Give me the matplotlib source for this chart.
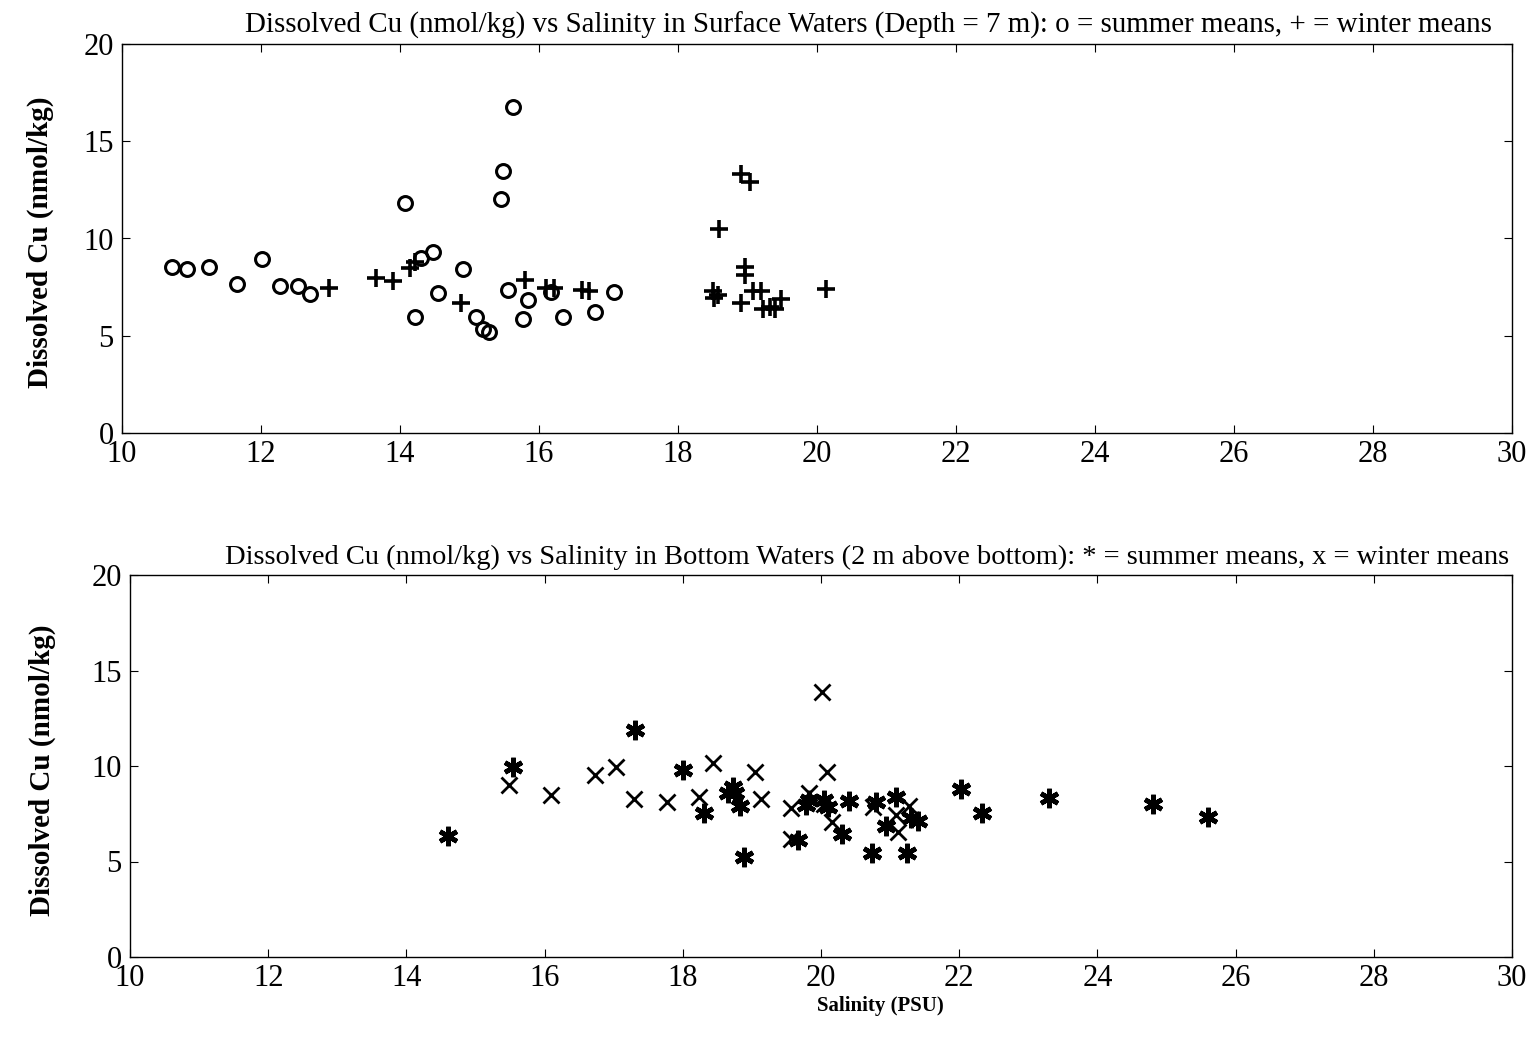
import matplotlib
matplotlib.use("Agg")
import matplotlib.pyplot as plt

plt.rcParams['font.family'] = ['Liberation Serif', 'DejaVu Serif']

# ---- Surface waters (top panel) ----
surf_summer_sal = [10.72, 10.93, 11.25, 11.65, 12.02, 12.27, 12.53, 12.70, 14.07, 14.22,
                   14.30, 14.48, 14.55, 14.91, 15.10, 15.20, 15.28, 15.45, 15.48, 15.62,
                   15.55, 15.84, 15.77, 16.17, 16.35, 16.81, 17.08]
surf_summer_cu = [8.55, 8.45, 8.55, 7.65, 8.93, 7.55, 7.55, 7.15, 11.8, 5.95,
                  9.0, 9.3, 7.2, 8.45, 5.97, 5.35, 5.2, 12.05, 13.45, 16.75,
                  7.35, 6.85, 5.85, 7.25, 5.97, 6.2, 7.25]

surf_winter_sal = [12.98, 13.65, 13.90, 14.15, 14.22, 14.88, 15.80, 16.10, 16.22, 16.62,
                   16.72, 18.50, 18.58, 18.52, 18.59, 18.91, 19.03, 18.97, 18.97, 18.91,
                   19.08, 19.20, 19.22, 19.32, 19.39, 19.48, 20.13]
surf_winter_cu = [7.45, 7.95, 7.8, 8.5, 8.8, 6.7, 7.85, 7.45, 7.45, 7.35,
                  7.3, 7.3, 7.1, 6.95, 10.5, 13.3, 12.9, 8.55, 8.1, 6.7,
                  7.3, 7.3, 6.4, 6.5, 6.35, 6.9, 7.4]

# ---- Bottom waters (bottom panel) ----
bot_summer_sal = [14.60, 15.54, 17.31, 18.00, 18.31, 18.65, 18.73, 18.75, 18.83, 18.88,
                  19.67, 19.83, 19.78, 20.05, 20.10, 20.31, 20.41, 20.74, 20.80, 20.94,
                  21.08, 21.25, 21.30, 21.40, 22.02, 22.33, 23.30, 24.80, 25.60]
bot_summer_cu = [6.35, 9.95, 11.9, 9.8, 7.55, 8.6, 8.9, 8.6, 7.9, 5.25,
                 6.15, 8.2, 7.95, 8.2, 7.85, 6.45, 8.15, 5.45, 8.1, 6.85,
                 8.4, 5.45, 7.3, 7.1, 8.8, 7.55, 8.35, 8.0, 7.35]

bot_winter_sal = [15.49, 16.09, 16.73, 17.04, 17.29, 17.77, 18.23, 18.44, 19.05, 19.13,
                  19.57, 19.57, 19.83, 20.02, 20.09, 20.05, 20.16, 20.75, 21.08, 21.11,
                  21.28]
bot_winter_cu = [8.98, 8.5, 9.54, 9.94, 8.26, 8.11, 8.4, 10.18, 9.71, 8.26,
                 7.8, 6.2, 8.6, 13.87, 9.66, 8.0, 7.09, 7.85, 7.45, 6.57,
                 7.88]

xticks = [10, 12, 14, 16, 18, 20, 22, 24, 26, 28, 30]
yticks = [0, 5, 10, 15, 20]

top_title = ("Dissolved Cu (nmol/kg) vs Salinity in Surface Waters (Depth = 7 m): "
             "o = summer means, + = winter means")
bot_title = ("Dissolved Cu (nmol/kg) vs Salinity in Bottom Waters (2 m above bottom): "
             "* = summer means, x = winter means")
ylab = "Dissolved Cu (nmol/kg)"
xlab = "Salinity (PSU)"

W, H = 1530, 1037
fig = plt.figure(figsize=(W / 100, H / 100), dpi=100)
fig.patch.set_facecolor('white')

ax1 = fig.add_axes([122 / W, 1 - 433 / H, (1512 - 122) / W, (433 - 44) / H])
ax2 = fig.add_axes([130 / W, 1 - 957 / H, (1512 - 130) / W, (957 - 575) / H])


def style(ax):
    ax.set_xlim(10, 30)
    ax.set_ylim(0, 20)
    ax.set_xticks(xticks)
    ax.set_yticks(yticks)
    ax.tick_params(direction='in', length=6, width=0.8, top=True, right=True,
                   labelsize=22, colors='black')
    ax.tick_params(axis='x', pad=5)
    ax.tick_params(axis='y', pad=6)
    for s in ax.spines.values():
        s.set_linewidth(1.0)
        s.set_color('black')


style(ax1)
style(ax2)

ax1.plot(surf_summer_sal, surf_summer_cu, linestyle='none', marker='o', ms=10,
         mfc='none', mec='black', mew=2.2)
ax1.plot(surf_winter_sal, surf_winter_cu, linestyle='none', marker='+', ms=13,
         mec='black', mew=2.6)

ax2.plot(bot_summer_sal, bot_summer_cu, linestyle='none', marker=(6, 2, 0), ms=14,
         mec='black', mew=3.4)
ax2.plot(bot_winter_sal, bot_winter_cu, linestyle='none', marker='x', ms=11,
         mec='black', mew=2.0)

ax1.text(0.537, 1.012, top_title, transform=ax1.transAxes, ha='center', va='bottom',
         fontsize=20.9)
ax2.text(0.533, 1.012, bot_title, transform=ax2.transAxes, ha='center', va='bottom',
         fontsize=20.5)

fig.text(40 / W, 1 - 242 / H, ylab, rotation=90, ha='center', va='center',
         fontsize=21, fontweight='bold')
fig.text(42 / W, 1 - 770 / H, ylab, rotation=90, ha='center', va='center',
         fontsize=21, fontweight='bold')
fig.text(880 / W, 1 - 1006 / H, xlab, ha='center', va='center',
         fontsize=15, fontweight='bold')

fig.savefig('out.png', dpi=100, facecolor='white')
